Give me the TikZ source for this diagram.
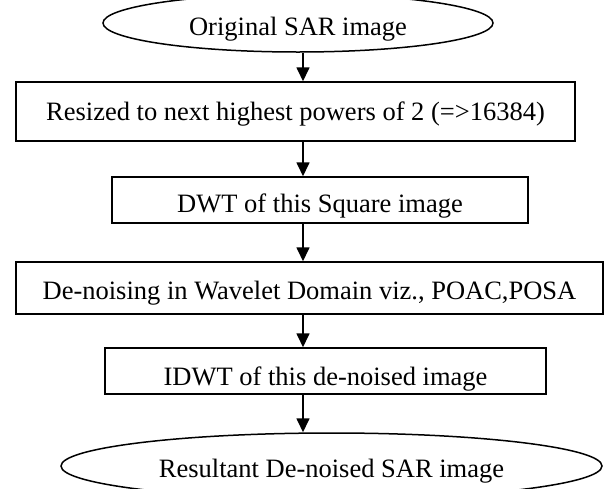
\documentclass[tikz,border=0pt]{standalone}
\usepackage{fontspec}
\setmainfont{Liberation Serif}
\usetikzlibrary{shapes.geometric,arrows.meta}
\tikzset{
  boxnode/.style={draw,line width=1.5pt,inner sep=0pt,minimum width=#1},
  ovalnode/.style={draw,ellipse,line width=1.5pt,inner sep=0pt},
  label/.style={anchor=base,inner sep=0pt,font=\fontsize{26.5}{29}\selectfont},
  arr/.style={line width=1.7pt,-{Triangle[width=13pt,length=14pt]}}
}
\begin{document}
\begin{tikzpicture}[x=1pt,y=-1pt]
\useasboundingbox (0,0) rectangle (616,488);
\clip (0,0) rectangle (616,488);
\coordinate (ax) at (303,0);
% shapes
\node[ovalnode,minimum width=390pt,minimum height=58pt] (e1) at (298,23) {};
\node[boxnode=559pt,minimum height=59pt] (b1) at (295.5,111.5) {};
\node[boxnode=416pt,minimum height=46pt] (b2) at (320,200) {};
\node[boxnode=587pt,minimum height=52pt] (b3) at (309.5,288) {};
\node[boxnode=441pt,minimum height=46pt] (b4) at (325.5,371) {};
\node[ovalnode,minimum width=541pt,minimum height=66pt] (e2) at (331.5,466) {};
% texts
\node[label] (t1) at (298,35) {Original SAR image};
\node[label] (t2) at (295.5,120) {Resized to next highest powers of 2 (=>16384)};
\node[label] (t3) at (320,212) {DWT of this Square image};
\node[label] (t4) at (309.5,299) {De-noising in Wavelet Domain viz., POAC,POSA};
\node[label] (t5) at (325.5,385) {IDWT of this de-noised image};
\node[label] (t6) at (331.5,477) {Resultant De-noised SAR image};
% connectors
\draw[arr] (e1.south -| ax) -- (b1.north -| ax);
\draw[arr] (b1.south -| ax) -- (b2.north -| ax);
\draw[arr] (b2.south -| ax) -- (b3.north -| ax);
\draw[arr] (b3.south -| ax) -- (b4.north -| ax);
\draw[arr] (b4.south -| ax) -- (e2.north -| ax);
\end{tikzpicture}
\end{document}
